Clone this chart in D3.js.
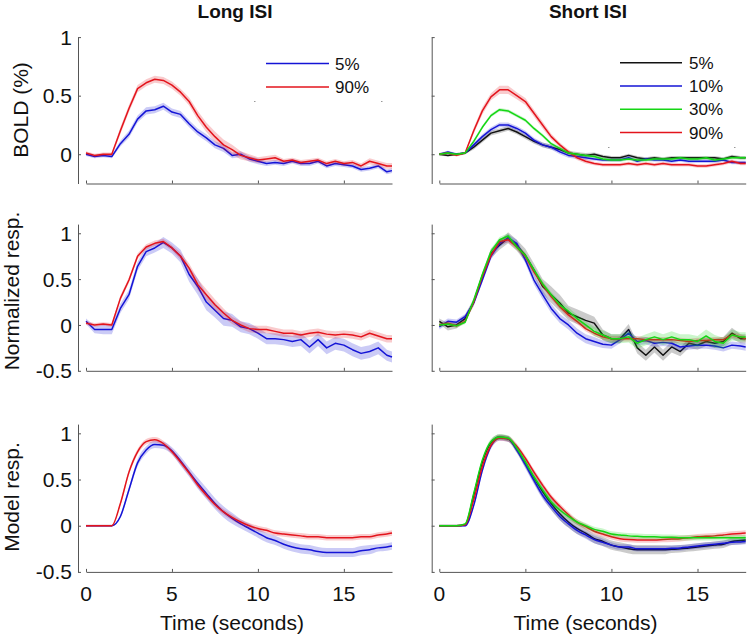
<!DOCTYPE html>
<html><head><meta charset="utf-8">
<script src="https://cdn.jsdelivr.net/npm/d3@7"></script>
<style>
body{margin:0;background:#fff}
svg{display:block}
text{font-family:"Liberation Sans",Arial,Helvetica,sans-serif;fill:#111}
</style>
</head><body>
<svg id="c" width="748" height="638"></svg>
<script>
// ---------- data ----------
const time = [0,0.5,1,1.5,2,2.5,3,3.5,4,4.5,5,5.5,6,6.5,7,7.5,8,8.5,9,9.5,10,10.5,11,11.5,12,12.5,13,13.5,14,14.5,15,15.5,16,16.5,17,17.5,17.8];
const columnTitles = ["Long ISI","Short ISI"];
const rowLabels = ["BOLD (%)","Normalized resp.","Model resp."];
const xTicks = [0,5,10,15];
const yTicksTop = [0,0.5,1];
const yTicksLow = [-0.5,0,0.5,1];
const longLegend = ["5%","90%"];
const shortLegend = ["5%","10%","30%","90%"];

// Long ISI, BOLD
const boldLong5  = [0,-0.02,-0.01,-0.02,0.09,0.17,0.3,0.37,0.38,0.41,0.36,0.34,0.26,0.19,0.14,0.08,0.05,-0.01,0,-0.04,-0.06,-0.08,-0.07,-0.08,-0.06,-0.08,-0.08,-0.06,-0.10,-0.08,-0.09,-0.10,-0.13,-0.12,-0.10,-0.15,-0.14];
const boldLong90 = [0.01,-0.01,0,0,0.2,0.39,0.56,0.61,0.64,0.63,0.59,0.53,0.45,0.33,0.23,0.15,0.08,0.04,-0.01,-0.03,-0.05,-0.04,-0.03,-0.06,-0.05,-0.07,-0.06,-0.05,-0.08,-0.06,-0.08,-0.07,-0.10,-0.06,-0.08,-0.10,-0.10];
const boldLong5Err  = [0.015,0.015,0.015,0.015,0.025,0.03,0.03,0.03,0.03,0.03,0.03,0.03,0.03,0.03,0.03,0.03,0.03,0.025,0.025,0.025,0.025,0.02,0.02,0.02,0.02,0.02,0.02,0.02,0.02,0.02,0.02,0.02,0.02,0.02,0.02,0.02,0.02];
const boldLong90Err = [0.015,0.015,0.015,0.015,0.03,0.03,0.03,0.03,0.03,0.03,0.03,0.03,0.035,0.04,0.04,0.045,0.045,0.04,0.035,0.03,0.025,0.025,0.025,0.02,0.02,0.02,0.02,0.02,0.02,0.02,0.02,0.02,0.02,0.025,0.025,0.025,0.025];

// Short ISI, BOLD
const boldShort5  = [0,-0.01,0,0.01,0.06,0.12,0.18,0.2,0.22,0.19,0.15,0.11,0.08,0.06,0.04,0.01,0,-0.01,0,-0.02,-0.03,-0.03,-0.01,-0.03,-0.04,-0.03,-0.04,-0.03,-0.03,-0.03,-0.03,-0.03,-0.03,-0.04,-0.02,-0.03,-0.03];
const boldShort10 = [0,0.02,0,0.01,0.08,0.15,0.21,0.25,0.25,0.22,0.18,0.12,0.08,0.06,0.02,-0.01,-0.02,-0.03,-0.04,-0.05,-0.05,-0.05,-0.03,-0.06,-0.04,-0.05,-0.05,-0.06,-0.05,-0.06,-0.06,-0.06,-0.06,-0.05,-0.07,-0.07,-0.07];
const boldShort30 = [0,0.01,0,0.01,0.11,0.23,0.33,0.38,0.37,0.33,0.29,0.22,0.16,0.09,0.05,0.01,0,-0.01,-0.02,-0.04,-0.05,-0.05,-0.04,-0.05,-0.05,-0.04,-0.04,-0.04,-0.03,-0.04,-0.04,-0.03,-0.05,-0.04,-0.03,-0.03,-0.03];
const boldShort90 = [0,0.01,-0.01,0.01,0.2,0.37,0.49,0.55,0.55,0.5,0.45,0.35,0.25,0.15,0.08,0.02,-0.03,-0.06,-0.08,-0.09,-0.09,-0.09,-0.08,-0.09,-0.08,-0.09,-0.08,-0.09,-0.09,-0.09,-0.10,-0.10,-0.09,-0.08,-0.06,-0.08,-0.08];
const boldShort5Err  = [0.01,0.01,0.01,0.01,0.02,0.02,0.02,0.02,0.02,0.02,0.02,0.02,0.02,0.02,0.02,0.02,0.02,0.02,0.015,0.015,0.015,0.015,0.015,0.015,0.015,0.015,0.015,0.015,0.015,0.015,0.015,0.015,0.015,0.015,0.015,0.015,0.015];
const boldShort10Err = [0.01,0.01,0.01,0.01,0.02,0.02,0.02,0.02,0.02,0.02,0.02,0.02,0.02,0.02,0.02,0.02,0.02,0.02,0.015,0.015,0.015,0.015,0.015,0.015,0.015,0.015,0.015,0.015,0.015,0.015,0.015,0.015,0.015,0.015,0.015,0.015,0.015];
const boldShort30Err = [0.01,0.01,0.01,0.01,0.015,0.015,0.015,0.015,0.015,0.015,0.015,0.015,0.015,0.015,0.015,0.015,0.015,0.015,0.015,0.015,0.015,0.015,0.015,0.015,0.015,0.015,0.015,0.015,0.015,0.015,0.015,0.015,0.015,0.015,0.015,0.015,0.015];
const boldShort90Err = [0.01,0.01,0.01,0.01,0.025,0.03,0.03,0.035,0.035,0.03,0.03,0.03,0.03,0.025,0.02,0.02,0.02,0.02,0.015,0.015,0.015,0.015,0.015,0.015,0.015,0.015,0.015,0.015,0.015,0.015,0.015,0.015,0.015,0.015,0.015,0.015,0.015];

// Long ISI, normalized
const normLong5  = [0.04,-0.05,-0.05,-0.05,0.18,0.33,0.64,0.80,0.84,0.9,0.84,0.75,0.55,0.42,0.25,0.16,0.07,0.05,-0.02,-0.04,-0.09,-0.15,-0.15,-0.16,-0.18,-0.16,-0.24,-0.16,-0.25,-0.2,-0.22,-0.27,-0.31,-0.29,-0.25,-0.33,-0.35];
const normLong90 = [0.02,0,0.01,0,0.29,0.49,0.75,0.85,0.89,0.91,0.84,0.75,0.62,0.44,0.33,0.22,0.13,0.05,0,-0.04,-0.05,-0.05,-0.07,-0.09,-0.09,-0.11,-0.09,-0.08,-0.10,-0.11,-0.10,-0.11,-0.13,-0.09,-0.12,-0.15,-0.15];
const normLong5Err  = [0.03,0.04,0.05,0.05,0.05,0.05,0.05,0.05,0.05,0.06,0.06,0.07,0.08,0.09,0.09,0.08,0.08,0.07,0.06,0.06,0.06,0.06,0.06,0.06,0.06,0.07,0.07,0.07,0.07,0.07,0.07,0.07,0.07,0.07,0.07,0.06,0.06];
const normLong90Err = [0.02,0.02,0.02,0.02,0.03,0.03,0.03,0.03,0.03,0.03,0.03,0.04,0.05,0.06,0.06,0.06,0.05,0.04,0.04,0.04,0.04,0.04,0.04,0.04,0.04,0.04,0.04,0.04,0.04,0.04,0.04,0.04,0.04,0.04,0.04,0.04,0.04];

// Short ISI, normalized
const normShort5  = [0.04,-0.02,0,0.07,0.25,0.53,0.78,0.87,0.95,0.87,0.76,0.6,0.42,0.33,0.24,0.13,0.09,0.05,0.02,-0.11,-0.15,-0.15,-0.05,-0.25,-0.33,-0.24,-0.33,-0.24,-0.29,-0.2,-0.22,-0.18,-0.2,-0.18,-0.09,-0.15,-0.15];
const normShort10 = [-0.02,0.04,0.03,0.09,0.24,0.49,0.75,0.89,0.95,0.89,0.71,0.49,0.33,0.18,0.07,0,-0.09,-0.15,-0.18,-0.21,-0.22,-0.16,-0.09,-0.18,-0.17,-0.2,-0.19,-0.2,-0.24,-0.23,-0.22,-0.22,-0.23,-0.25,-0.22,-0.23,-0.24];
const normShort30 = [0,0.01,-0.01,0.03,0.27,0.55,0.8,0.93,0.97,0.85,0.76,0.6,0.45,0.33,0.22,0.15,0.07,0,-0.07,-0.11,-0.15,-0.15,-0.13,-0.2,-0.16,-0.13,-0.16,-0.13,-0.16,-0.16,-0.18,-0.12,-0.18,-0.2,-0.11,-0.13,-0.13];
const normShort90 = [0,0.02,-0.01,0.04,0.25,0.53,0.76,0.91,0.93,0.85,0.75,0.58,0.44,0.31,0.2,0.11,0.04,-0.04,-0.09,-0.13,-0.15,-0.15,-0.15,-0.15,-0.16,-0.16,-0.16,-0.16,-0.17,-0.18,-0.17,-0.17,-0.16,-0.16,-0.11,-0.13,-0.15];
const normShort5Err  = [0.03,0.04,0.04,0.04,0.04,0.04,0.05,0.05,0.06,0.06,0.07,0.07,0.08,0.09,0.09,0.08,0.08,0.08,0.07,0.06,0.05,0.05,0.06,0.06,0.06,0.06,0.06,0.06,0.05,0.05,0.05,0.05,0.05,0.05,0.06,0.05,0.05];
const normShort10Err = [0.03,0.03,0.03,0.03,0.03,0.03,0.04,0.04,0.04,0.04,0.04,0.05,0.05,0.05,0.05,0.05,0.05,0.05,0.05,0.04,0.04,0.04,0.04,0.04,0.04,0.04,0.04,0.04,0.04,0.04,0.04,0.04,0.04,0.04,0.04,0.04,0.04];
const normShort30Err = [0.02,0.02,0.02,0.02,0.03,0.03,0.03,0.03,0.03,0.03,0.03,0.03,0.03,0.03,0.04,0.04,0.04,0.04,0.05,0.05,0.05,0.05,0.06,0.06,0.06,0.06,0.06,0.06,0.06,0.06,0.06,0.07,0.07,0.06,0.06,0.05,0.05];
const normShort90Err = [0.02,0.02,0.02,0.02,0.03,0.03,0.03,0.03,0.03,0.03,0.03,0.03,0.03,0.03,0.03,0.03,0.03,0.03,0.03,0.03,0.03,0.03,0.03,0.03,0.03,0.03,0.03,0.03,0.03,0.03,0.03,0.03,0.03,0.03,0.03,0.03,0.03];

// Long ISI, model
const modelLong5  = [0,0,0,0,0.1,0.39,0.68,0.82,0.88,0.87,0.81,0.7,0.58,0.46,0.35,0.24,0.15,0.08,0.02,-0.03,-0.08,-0.13,-0.16,-0.2,-0.23,-0.25,-0.26,-0.28,-0.29,-0.29,-0.29,-0.29,-0.27,-0.26,-0.24,-0.23,-0.22];
const modelLong90 = [0,0,0,0,0.24,0.58,0.8,0.91,0.93,0.89,0.8,0.69,0.57,0.44,0.33,0.23,0.15,0.09,0.04,0,-0.03,-0.05,-0.08,-0.09,-0.1,-0.11,-0.12,-0.12,-0.13,-0.13,-0.13,-0.13,-0.12,-0.12,-0.1,-0.09,-0.08];
const modelLong5Err  = [0.01,0.01,0.01,0.01,0.02,0.03,0.04,0.04,0.04,0.04,0.04,0.05,0.05,0.06,0.06,0.06,0.06,0.06,0.05,0.05,0.05,0.05,0.05,0.05,0.05,0.05,0.05,0.05,0.05,0.05,0.05,0.05,0.05,0.05,0.04,0.04,0.04];
const modelLong90Err = [0.01,0.01,0.01,0.01,0.02,0.03,0.03,0.03,0.03,0.03,0.03,0.03,0.03,0.03,0.03,0.03,0.03,0.03,0.03,0.03,0.03,0.03,0.03,0.03,0.03,0.03,0.03,0.03,0.03,0.03,0.03,0.03,0.03,0.03,0.03,0.03,0.03];

// Short ISI, model
const modelShort5  = [0,0,0,0.01,0.33,0.69,0.9,0.96,0.94,0.83,0.68,0.52,0.37,0.24,0.13,0.04,-0.03,-0.08,-0.14,-0.17,-0.21,-0.23,-0.25,-0.26,-0.26,-0.26,-0.26,-0.255,-0.25,-0.24,-0.23,-0.22,-0.21,-0.2,-0.17,-0.16,-0.155];
const modelShort10 = [0,0,0,0,0.22,0.6,0.86,0.95,0.94,0.82,0.66,0.49,0.33,0.21,0.1,0.02,-0.05,-0.1,-0.15,-0.18,-0.21,-0.23,-0.23,-0.25,-0.25,-0.25,-0.25,-0.245,-0.24,-0.23,-0.22,-0.21,-0.2,-0.19,-0.18,-0.175,-0.17];
const modelShort30 = [0,0,0,0.02,0.35,0.71,0.91,0.96,0.95,0.84,0.69,0.53,0.39,0.26,0.17,0.1,0.04,0,-0.04,-0.06,-0.09,-0.1,-0.11,-0.115,-0.12,-0.12,-0.125,-0.125,-0.13,-0.13,-0.13,-0.13,-0.13,-0.13,-0.13,-0.13,-0.13];
const modelShort90 = [0,0,0,0.01,0.28,0.64,0.87,0.95,0.94,0.86,0.73,0.58,0.44,0.31,0.21,0.12,0.04,-0.01,-0.06,-0.09,-0.12,-0.14,-0.15,-0.155,-0.155,-0.155,-0.15,-0.145,-0.14,-0.13,-0.12,-0.115,-0.11,-0.1,-0.09,-0.085,-0.08];
const modelShort5Err  = [0.01,0.01,0.01,0.01,0.03,0.03,0.03,0.03,0.03,0.04,0.05,0.06,0.07,0.07,0.07,0.06,0.06,0.05,0.05,0.05,0.05,0.05,0.05,0.05,0.05,0.05,0.05,0.04,0.04,0.04,0.04,0.04,0.04,0.04,0.04,0.04,0.04];
const modelShort10Err = [0.01,0.01,0.01,0.01,0.02,0.03,0.03,0.03,0.03,0.03,0.04,0.04,0.04,0.04,0.04,0.04,0.04,0.04,0.04,0.04,0.03,0.03,0.03,0.03,0.03,0.03,0.03,0.03,0.03,0.03,0.03,0.03,0.03,0.03,0.03,0.03,0.03];
const modelShort30Err = [0.01,0.01,0.01,0.01,0.03,0.03,0.03,0.03,0.03,0.03,0.03,0.03,0.03,0.03,0.03,0.03,0.03,0.03,0.03,0.03,0.03,0.03,0.03,0.03,0.03,0.03,0.03,0.03,0.03,0.03,0.03,0.03,0.03,0.03,0.03,0.03,0.03];
const modelShort90Err = [0.01,0.01,0.01,0.01,0.03,0.03,0.03,0.03,0.03,0.03,0.03,0.03,0.03,0.03,0.03,0.03,0.03,0.03,0.03,0.03,0.03,0.03,0.03,0.03,0.03,0.03,0.03,0.03,0.03,0.03,0.03,0.03,0.03,0.03,0.03,0.03,0.03];

// ---------- drawing ----------
const COL = {black:"#121212", blue:"#1414d6", green:"#14d614", red:"#e3141c"};
const svg = d3.select("#c");
const FONT = 21;

const cols = [{axisX:78, x0:86, x1:392}, {axisX:431.7, x0:439.3, x1:745.7}];
const rows = [
  {domain:[-0.25,1], range:[183.5,37.1], ticks:yTicksTop},
  {domain:[-0.5,1.1], range:[370.8,224.1], ticks:yTicksLow},
  {domain:[-0.5,1.1], range:[571.9,424.1], ticks:yTicksLow}
];

const panels = [
  [ // row 0
    {series:[{v:boldLong5,e:boldLong5Err,c:"blue"},{v:boldLong90,e:boldLong90Err,c:"red"}]},
    {series:[{v:boldShort5,e:boldShort5Err,c:"black"},{v:boldShort10,e:boldShort10Err,c:"blue"},{v:boldShort90,e:boldShort90Err,c:"red"},{v:boldShort30,e:boldShort30Err,c:"green"}]}
  ],
  [
    {series:[{v:normLong5,e:normLong5Err,c:"blue"},{v:normLong90,e:normLong90Err,c:"red"}]},
    {series:[{v:normShort5,e:normShort5Err,c:"black"},{v:normShort10,e:normShort10Err,c:"blue"},{v:normShort90,e:normShort90Err,c:"red"},{v:normShort30,e:normShort30Err,c:"green"}]}
  ],
  [
    {smooth:true, series:[{v:modelLong5,e:modelLong5Err,c:"blue"},{v:modelLong90,e:modelLong90Err,c:"red"}]},
    {smooth:true, series:[{v:modelShort5,e:modelShort5Err,c:"black"},{v:modelShort10,e:modelShort10Err,c:"blue"},{v:modelShort90,e:modelShort90Err,c:"red"},{v:modelShort30,e:modelShort30Err,c:"green"}]}
  ]
];

rows.forEach((row, ri) => {
  cols.forEach((col, ci) => {
    const x = d3.scaleLinear().domain([0,17.8]).range([col.x0, col.x1]);
    const y = d3.scaleLinear().domain(row.domain).range(row.range);
    const g = svg.append("g");
    const p = panels[ri][ci];
    const curve = p.smooth ? d3.curveMonotoneX : d3.curveLinear;
    p.series.forEach(s => {
      const n = Math.min(time.length, s.v.length, s.e.length);
      const pts = d3.range(n).map(i => ({t:time[i], v:s.v[i], e:s.e[i]}));
      g.append("path")
        .attr("d", d3.area().curve(curve).x(d=>x(d.t)).y0(d=>y(d.v-d.e)).y1(d=>y(d.v+d.e))(pts))
        .attr("fill", COL[s.c]).attr("fill-opacity", s.c==="black"?0.22:0.22).attr("stroke","none");
      g.append("path")
        .attr("d", d3.line().curve(curve).x(d=>x(d.t)).y(d=>y(d.v))(pts))
        .attr("fill","none").attr("stroke", COL[s.c]).attr("stroke-width",1.5)
        .attr("stroke-linejoin","round");
    });
    // y axis
    const ya = svg.append("g").attr("transform",`translate(${col.axisX},0)`)
      .call(d3.axisRight(y).tickValues(row.ticks).tickSize(3).tickSizeOuter(0).tickFormat(""));
    // x axis
    const xa = svg.append("g").attr("transform",`translate(0,${row.range[0]})`)
      .call(d3.axisTop(x).tickValues(xTicks).tickSize(3).tickSizeOuter(0).tickFormat(""));
    [ya,xa].forEach(a => { a.selectAll("path,line").attr("stroke","#555").attr("stroke-width",1); });
    // y tick labels (left column)
    if (ci === 0) {
      row.ticks.forEach(t => {
        svg.append("text").attr("x", 72).attr("y", y(t)).attr("dy","0.36em")
          .attr("text-anchor","end").attr("font-size",FONT).text(String(t).replace("-","-"));
      });
    }
    // x tick labels (bottom row)
    if (ri === 2) {
      xTicks.forEach(t => {
        svg.append("text").attr("x", x(t)).attr("y", 601)
          .attr("text-anchor","middle").attr("font-size",FONT).text(t);
      });
      svg.append("text").attr("x", (col.x0+col.x1)/2 - 7).attr("y", 630)
        .attr("text-anchor","middle").attr("font-size",FONT).text("Time (seconds)");
    }
  });
});

// row labels
const rowLabelPos = [[28,110],[19,291],[19,497]];
rowLabels.forEach((lab,i) => {
  svg.append("text").attr("transform",`translate(${rowLabelPos[i][0]},${rowLabelPos[i][1]}) rotate(-90)`)
    .attr("text-anchor","middle").attr("font-size",FONT).text(lab);
});

// column titles
const titleX = [235, 588];
columnTitles.forEach((t,i) => {
  svg.append("text").attr("x", titleX[i]).attr("y", 18).attr("text-anchor","middle")
    .attr("font-size",19).attr("font-weight","bold").text(t);
});

// legends
function legend(items, colors, lx0, lx1, tx, y0, dy, corners) {
  items.forEach((lab,i) => {
    const yy = y0 + i*dy;
    svg.append("line").attr("x1",lx0).attr("x2",lx1).attr("y1",yy).attr("y2",yy)
      .attr("stroke",COL[colors[i]]).attr("stroke-width",1.5);
    svg.append("text").attr("x",tx).attr("y",yy).attr("dy","0.36em")
      .attr("font-size",17).text(lab);
  });
  corners.forEach(c => {
    svg.append("rect").attr("x",c[0]).attr("y",c[1]).attr("width",1.5).attr("height",1)
      .attr("fill","#999");
  });
}
legend(longLegend, ["blue","red"], 266, 329, 335, 63.5, 23.5, [[254,101],[381,101]]);
legend(shortLegend, ["black","blue","green","red"], 620, 682, 689, 62.8, 23.2, [[608,147],[734,147]]);
</script>
</body></html>
